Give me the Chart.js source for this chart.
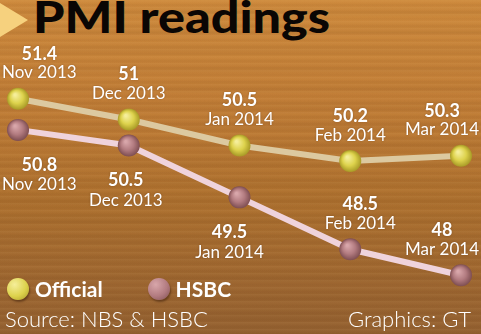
<!DOCTYPE html>
<html>
<head>
<meta charset="utf-8">
<script src="https://cdn.jsdelivr.net/npm/chart.js@4.4.1/dist/chart.umd.min.js"></script>
<style>
  html, body { margin: 0; padding: 0; }
  body {
    width: 481px; height: 334px; overflow: hidden; position: relative;
    font-family: Lato, 'Open Sans', sans-serif;
    background:
      repeating-linear-gradient(180deg, rgba(255,220,160,0.06) 0px, rgba(255,220,160,0) 3px, rgba(80,40,10,0.06) 5px, rgba(80,40,10,0) 7px),
      repeating-linear-gradient(180deg, rgba(90,50,15,0) 0px, rgba(90,50,15,0.07) 13px, rgba(90,50,15,0) 19px),
      linear-gradient(180deg, #cf8b3d 0%, #c27e37 30%, #ae712f 60%, #9e6731 85%, #946131 100%);
  }
  #wrap { position: absolute; left: 0; top: 0; width: 481px; height: 334px; }
  .arrow {
    position: absolute; left: 0; top: 3px; width: 0; height: 0;
    border-top: 17px solid transparent; border-bottom: 17px solid transparent;
    border-left: 28px solid #f6d17e;
  }
  h1 {
    position: absolute; left: 33px; top: -9px; margin: 0;
    font-family: Lato, sans-serif; font-weight: 900; font-size: 43px;
    color: #0a0604; letter-spacing: 0px;
    transform: scaleX(1.17); transform-origin: left top;
  }
  #legend { position: absolute; left: 7px; top: 276px; display: flex; }
  .item { display: flex; align-items: center; margin-right: 45px; }
  .dot { width: 22px; height: 22px; border-radius: 50%; margin-right: 6px; box-shadow: 1px 2px 2px rgba(60,30,10,0.5); }
  .item span { color: #fff; font-weight: 700; font-size: 21px; }
  .foot { position: absolute; top: 305px; color: #fff; font-size: 22px; font-weight: 300; }
</style>
</head>
<body>
<div class="arrow"></div>
<h1>PMI readings</h1>
<div id="wrap"><canvas id="pmiChart"></canvas></div>
<div id="legend"></div>
<div class="foot" style="left:5px">Source: NBS &amp; HSBC</div>
<div class="foot" style="right:10px">Graphics: GT</div>
<script>
const months = ['Nov 2013', 'Dec 2013', 'Jan 2014', 'Feb 2014', 'Mar 2014'];
const officialValues = [51.4, 51, 50.5, 50.2, 50.3];
const hsbcValues = [50.8, 50.5, 49.5, 48.5, 48];

// where each point's label goes, and a small horizontal nudge
const officialSide = ['above', 'above', 'above', 'above', 'above'];
const hsbcSide = ['below', 'below', 'below', 'above', 'above'];
const hsbcNudge = [0, -3, -10, 10, -10];

const colors = {
    official: { line: '#dcc9a0', dot: '#ddd24c', hi: '#f5ee9a', lo: '#a89a26' },
    hsbc: { line: '#efd3dc', dot: '#b27b80', hi: '#d8a6aa', lo: '#7e4e52' }
};

function ballFill(c) {
    return function(context) {
        const el = context.element;
        const ctx = context.chart.ctx;
        if (!el || el.x === undefined || isNaN(el.y)) return c.dot;
        const g = ctx.createRadialGradient(el.x - 3, el.y - 4, 1, el.x, el.y, 11);
        g.addColorStop(0, c.hi);
        g.addColorStop(0.55, c.dot);
        g.addColorStop(1, c.lo);
        return g;
    };
}

const valueFont = 'bold 18px Lato, sans-serif';
const monthFont = '17px Lato, sans-serif';

const pointLabels = {
    id: 'pointLabels',
    afterDatasetsDraw(chart) {
        const ctx = chart.ctx;
        const W = chart.width;
        chart.data.datasets.forEach((ds, di) => {
            const meta = chart.getDatasetMeta(di);
            meta.data.forEach((pt, i) => {
                const val = String(ds.data[i]);
                const side = ds.labelSide[i];
                const nudge = ds.labelNudge ? ds.labelNudge[i] : 0;
                ctx.save();
                ctx.fillStyle = '#fff';
                ctx.textAlign = 'center';
                ctx.textBaseline = 'middle';
                ctx.shadowColor = 'rgba(60,30,5,0.35)';
                ctx.shadowBlur = 2;
                ctx.font = valueFont;
                const vw = ctx.measureText(val).width;
                ctx.font = monthFont;
                const mw = ctx.measureText(months[i]).width;
                const half = Math.max(vw, mw) / 2;
                let x = pt.x + nudge;
                x = Math.min(Math.max(x, half + 2), W - half - 2);
                let vy, my;
                if (side === 'above') { vy = pt.y - 45; my = pt.y - 26; }
                else { vy = pt.y + 35; my = pt.y + 55; }
                ctx.font = valueFont;
                ctx.fillText(val, x, vy);
                ctx.font = monthFont;
                ctx.fillText(months[i], x, my);
                ctx.restore();
            });
        });
    }
};

const chart = new Chart(document.getElementById('pmiChart'), {
    type: 'line',
    data: {
        labels: months,
        datasets: [
            {
                label: 'Official',
                data: officialValues,
                labelSide: officialSide,
                borderColor: colors.official.line,
                borderWidth: 6,
                pointRadius: 11,
                pointBorderWidth: 0,
                pointBackgroundColor: ballFill(colors.official),
                legendColor: colors.official,
                tension: 0
            },
            {
                label: 'HSBC',
                data: hsbcValues,
                labelSide: hsbcSide,
                labelNudge: hsbcNudge,
                borderColor: colors.hsbc.line,
                borderWidth: 6,
                pointRadius: 11,
                pointBorderWidth: 0,
                pointBackgroundColor: ballFill(colors.hsbc),
                legendColor: colors.hsbc,
                tension: 0
            }
        ]
    },
    options: {
        responsive: true,
        maintainAspectRatio: false,
        animation: false,
        layout: { padding: { left: 18, right: 20, top: 0, bottom: 0 } },
        scales: {
            x: { display: false },
            y: { display: false, min: 47.08, max: 53.09 }
        },
        plugins: {
            legend: { display: false },
            tooltip: { enabled: false }
        }
    },
    plugins: [pointLabels]
});

// html legend built from the datasets
const legendEl = document.getElementById('legend');
chart.data.datasets.forEach(ds => {
    const c = ds.legendColor;
    const item = document.createElement('div');
    item.className = 'item';
    item.innerHTML = '<div class="dot" style="background: radial-gradient(circle at 35% 30%, ' + c.hi + ', ' + c.dot + ' 55%, ' + c.lo + ')"></div><span>' + ds.label + '</span>';
    legendEl.appendChild(item);
});
</script>
</body>
</html>
